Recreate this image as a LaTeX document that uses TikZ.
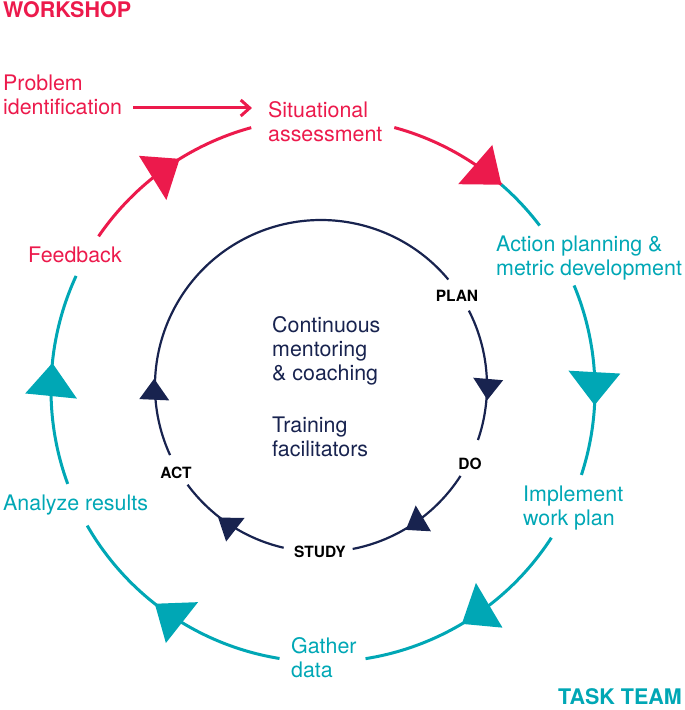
\documentclass[tikz,border=0pt]{standalone}
\usepackage{fontspec}
\setmainfont{TeX Gyre Heros}
\usetikzlibrary{arrows.meta, positioning}
\definecolor{wsred}{HTML}{EC1A4C}
\definecolor{ttteal}{HTML}{00A7B5}
\definecolor{pdnavy}{HTML}{18234F}

\begin{document}
\begin{tikzpicture}[x=1pt, y=1pt,
    lbl/.style={anchor=west, align=left, inner sep=0pt, font=\fontsize{21.4}{24}\selectfont},
    cyc/.style={inner sep=0pt, black, font=\bfseries\fontsize{15.5}{18}\selectfont},
    team/.style={inner sep=0pt, font=\bfseries\fontsize{21.5}{24}\selectfont},
    ring/.style={line width=3pt},
    inring/.style={line width=2.2pt, pdnavy}]
  \useasboundingbox (-323,-320) rectangle (362,390);

  % corner titles
  \node[team, wsred, anchor=base west] (workshop) at (-320,372) {WORKSHOP};
  \node[team, ttteal, anchor=base east] (taskteam) at (359,-314) {TASK TEAM};

  % outer ring labels
  \node[lbl, wsred] (probid) at (-320,295) {Problem\\identification};
  \node[lbl, wsred] (sitass) at (-55,268) {Situational\\assessment};
  \node[lbl, ttteal] (actplan) at (173,132) {Action planning \&\\metric development};
  \node[lbl, ttteal] (implement) at (200,-118) {Implement\\work plan};
  \node[lbl, ttteal] (gather) at (-32,-268) {Gather\\data};
  \node[lbl, ttteal] (analyze) at (-320,-115) {Analyze results};
  \node[lbl, wsred] (feedback) at (-295,135) {Feedback};

  \draw[ring, wsred, -{Straight Barb[length=9pt, width=16pt]}]
    ([shift={(11,-13)}]probid.east) -- ([shift={(-16,14)}]sitass.west);

  % outer ring
  \draw[ring, wsred] (145.6:272) arc[start angle=145.6, end angle=105.3, radius=272];
  \draw[ring, wsred] (74.8:272) arc[start angle=74.8, end angle=49, radius=272];
  \draw[ring, ttteal] (49:272) arc[start angle=49, end angle=37.2, radius=272];
  \draw[ring, ttteal] (22.6:272) arc[start angle=22.6, end angle=-18.2, radius=272];
  \draw[ring, ttteal] (-32.9:272) arc[start angle=-32.9, end angle=-81, radius=272];
  \draw[ring, ttteal] (-99.2:272) arc[start angle=-99.2, end angle=-150.1, radius=272];
  \draw[ring, ttteal] (-159.8:272) arc[start angle=-159.8, end angle=-204.8, radius=272];

  \foreach \a/\c in {121.8/wsred, 49/wsred, -3.2/ttteal, -59.3/ttteal, -128.2/ttteal, 174.3/ttteal}
    \fill[\c, rotate=\a] (272,0) -- (244,33) -- (296,33) -- cycle;

  % inner ring
  \node[lbl, pdnavy] (mentoring) at (-51,39) {Continuous\\mentoring\\\& coaching};
  \node[lbl, pdnavy] (training) at (-51,-47) {Training\\facilitators};

  \node[cyc] (plan) at (134,94) {PLAN};
  \node[cyc] (do) at (147,-74) {DO};
  \node[cyc] (study) at (-3,-162) {STUDY};
  \node[cyc] (act) at (-147,-83) {ACT};

  \begin{scope}[shift={(-2,4)}]
    \draw[inring] (204.6:166) arc[start angle=204.6, end angle=39.9, radius=166];
    \draw[inring] (27:166) arc[start angle=27, end angle=-19, radius=166];
    \draw[inring] (-32.8:166) arc[start angle=-32.8, end angle=-79, radius=166];
    \draw[inring] (-103:166) arc[start angle=-103, end angle=-143.5, radius=166];
    \foreach \a in {-4.8, -59.5, -128, 177.5}
      \fill[pdnavy, rotate=\a] (167,0) -- (151,21) -- (181,21) -- cycle;
  \end{scope}
\end{tikzpicture}
\end{document}
